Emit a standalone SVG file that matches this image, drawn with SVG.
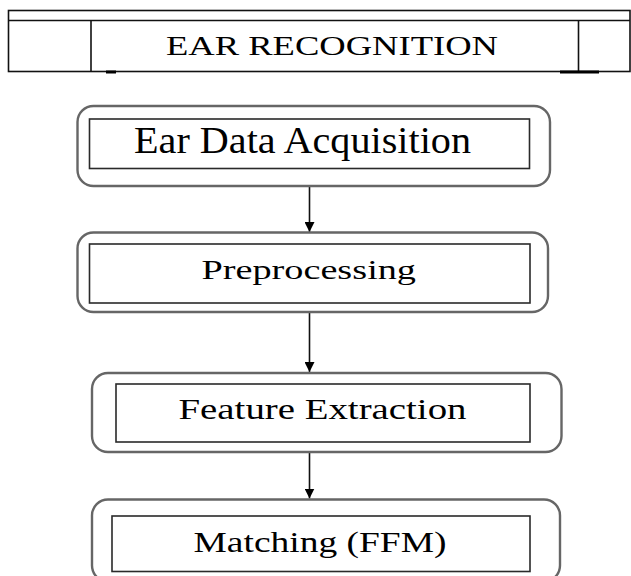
<svg xmlns="http://www.w3.org/2000/svg" width="631" height="576" viewBox="0 0 631 576">
<style>
.hdr{fill:none;stroke:#111;stroke-width:1.6}
.outer{fill:#fff;stroke:#666;stroke-width:2.4}
.inner{fill:#fff;stroke:#2a2a2a;stroke-width:1.6}
.t{font-family:"Liberation Serif","Times New Roman",serif;fill:#000}
.conn{stroke:#111;stroke-width:1.6;fill:none}
</style>
<defs>
<marker id="ah" viewBox="0 0 10 10" refX="10" refY="5" markerWidth="10" markerHeight="10" markerUnits="userSpaceOnUse" orient="auto">
<path d="M0,0 L10,5 L0,10 Z" fill="#000"/>
</marker>
</defs>
<rect width="631" height="576" fill="#fff"/>
<g id="header">
<rect class="hdr" x="8.5" y="10.5" width="621.5" height="61"/>
<line class="hdr" x1="8.5" y1="20.5" x2="630" y2="20.5"/>
<line class="hdr" x1="91" y1="20.5" x2="91" y2="71.5"/>
<line class="hdr" x1="578.5" y1="20.5" x2="578.5" y2="71.5"/>
<line stroke="#000" stroke-width="3" x1="106" y1="72" x2="116" y2="72"/>
<line stroke="#000" stroke-width="3" x1="560" y1="72" x2="599" y2="72"/>
<text class="t" x="166" y="55" font-size="27.5" textLength="332" lengthAdjust="spacingAndGlyphs">EAR RECOGNITION</text>
</g>
<g id="connectors">
<line class="conn" x1="309.5" y1="186" x2="309.5" y2="232" marker-end="url(#ah)"/>
<line class="conn" x1="309.5" y1="312" x2="309.5" y2="372" marker-end="url(#ah)"/>
<line class="conn" x1="309.5" y1="452" x2="309.5" y2="498.5" marker-end="url(#ah)"/>
</g>
<g id="node1">
<rect class="outer" x="77.5" y="106" width="472.5" height="80" rx="16"/>
<rect class="inner" x="89.5" y="119" width="440" height="49.5"/>
<text class="t" x="134" y="153" font-size="37" textLength="337" lengthAdjust="spacingAndGlyphs">Ear Data Acquisition</text>
</g>
<g id="node2">
<rect class="outer" x="77.5" y="232.5" width="470.5" height="79.5" rx="16"/>
<rect class="inner" x="89.5" y="244" width="440.5" height="59"/>
<text class="t" x="201.5" y="278.5" font-size="27.5" textLength="214.5" lengthAdjust="spacingAndGlyphs">Preprocessing</text>
</g>
<g id="node3">
<rect class="outer" x="92" y="373" width="469.5" height="79" rx="16"/>
<rect class="inner" x="116" y="384" width="414" height="58"/>
<text class="t" x="178.5" y="418.5" font-size="28.5" textLength="288" lengthAdjust="spacingAndGlyphs">Feature Extraction</text>
</g>
<g id="node4">
<rect class="outer" x="92" y="499.5" width="468" height="82" rx="16"/>
<rect class="inner" x="112" y="516" width="418" height="55.5"/>
<text class="t" x="193.5" y="551.5" font-size="29" textLength="253" lengthAdjust="spacingAndGlyphs">Matching (FFM)</text>
</g>
</svg>
